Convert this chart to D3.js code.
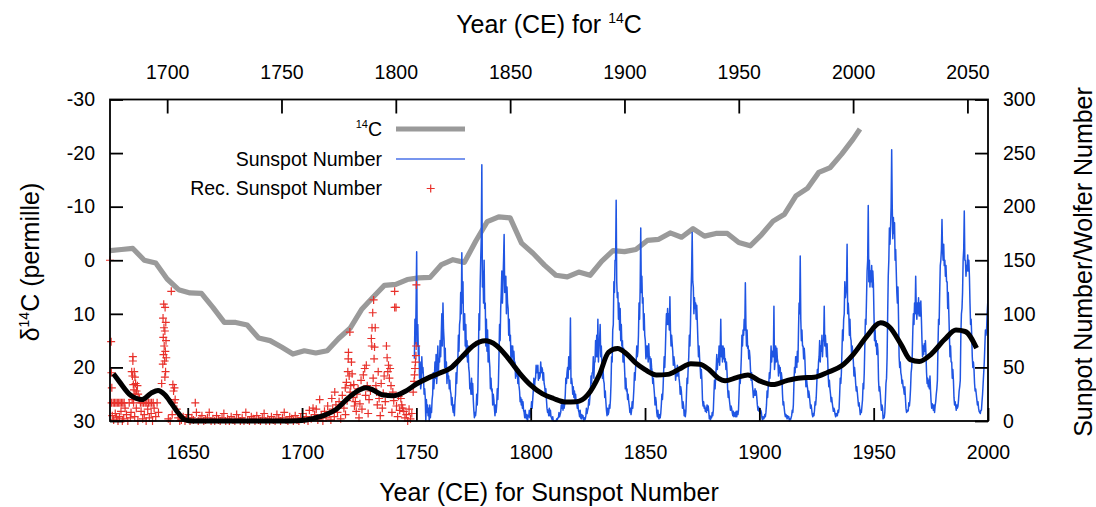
<!DOCTYPE html>
<html><head><meta charset="utf-8">
<script src="https://cdn.jsdelivr.net/npm/d3@7"></script>
<style>
body{margin:0;background:#fff;}
svg text{font-family:"Liberation Sans",Arial,Helvetica,sans-serif;fill:#000;}
</style></head><body>
<svg id="chart" width="1096" height="507"></svg>
<script>
// ---- 14C (top axis years, left axis permille, inverted) ----
const c14Years = [1675,1680,1685,1690,1695,1700,1705,1710,1715,1720,1725,1730,1735,1740,1745,1750,1755,1760,1765,1770,1775,1780,1785,1790,1795,1800,1805,1810,1815,1820,1825,1830,1835,1840,1845,1850,1855,1860,1865,1870,1875,1880,1885,1890,1895,1900,1905,1910,1915,1920,1925,1930,1935,1940,1945,1950,1955,1960,1965,1970,1975,1980,1985,1990,1995,2000,2003];
const c14Values = [-1.8,-2.0,-2.2,0.0,0.5,3.5,5.5,6.1,6.2,8.8,11.6,11.6,12.1,14.5,15.0,16.2,17.5,16.9,17.3,16.9,14.6,12.7,9.2,6.9,4.7,4.5,3.6,3.3,3.2,0.8,-0.1,0.4,-3.6,-7.2,-8.1,-7.9,-3.2,-1.3,0.9,2.8,3.1,2.2,2.8,0.2,-1.8,-1.6,-2.0,-3.7,-3.9,-5.1,-4.3,-5.9,-4.5,-5.0,-5.0,-3.3,-2.7,-4.8,-7.3,-8.6,-12.0,-13.4,-16.4,-17.3,-19.8,-22.6,-24.5];

// ---- Sunspot number, quarterly samples from 1749 (bottom axis years, right axis) ----
const sunspotStartYear = 1749;
const sunspotStep = 0.25;
const sunspotValues = [
58,95,72,110, 158,70,90,62, 70,40,55,30, 35,60,45,50, 40,25,30,22,
0,20,8,15, 5,12,0,15, 3,12,8,20, 25,45,30,40, 55,40,62,35,
48,70,45,58, 55,75,60,80, 100,70,110,85, 75,50,68,45, 55,35,48,40,
42,30,38,28, 25,15,22,12, 8,15,5,18, 25,45,35,50, 55,80,65,90,
95,120,100,157, 110,130,85,95, 100,70,90,60, 75,55,70,50, 45,30,35,25,
40,25,35,20, 10,3,8,5, 10,25,15,30, 60,100,85,125, 150,170,239,125,
140,110,150,105, 110,70,95,65, 85,55,75,58, 50,30,40,28, 30,15,25,20,
12,5,15,8, 15,30,20,35, 60,90,75,105, 120,140,110,130, 150,174,120,130,
135,100,125,110, 105,80,95,75, 80,55,70,60, 70,50,65,55, 55,40,50,42,
50,35,45,33, 28,18,22,15, 20,12,18,10, 8,3,10,4, 2,6,0,5,
4,10,3,9, 10,18,12,20, 28,40,30,38, 40,52,45,48, 52,38,45,40,
42,55,45,50, 48,38,45,35, 32,25,30,20, 12,8,10,5, 12,5,10,4,
3,1,4,0, 0,0,0,0, 0,2,1,3, 3,8,4,6, 8,15,12,18,
10,18,12,16, 25,40,35,45, 50,40,60,48, 55,96,35,40, 35,25,32,22,
28,20,25,18, 18,12,16,10, 8,4,10,3, 2,6,3,5, 0,3,1,2,
5,12,7,10, 12,20,15,22, 28,42,35,45, 45,60,40,55, 55,75,60,80,
60,95,55,70, 75,90,60,70, 55,40,50,38, 35,22,28,18, 10,5,12,6,
8,15,12,20, 35,60,55,85, 90,130,120,150, 150,206,130,115, 120,95,110,85,
105,75,90,70, 75,55,68,58, 45,30,40,28, 30,20,25,18, 14,8,12,6,
10,18,12,20, 30,45,38,50, 55,70,60,65, 80,110,95,125, 180,120,135,110,
115,85,100,80, 75,58,70,60, 70,55,72,58, 60,48,58,50, 45,35,40,32,
25,15,22,18, 8,4,10,3, 2,6,3,7, 15,25,20,30, 45,60,50,65,
85,100,90,105, 90,100,85,116, 85,70,80,72, 65,52,60,55, 50,38,45,42,
52,42,50,40, 35,25,32,28, 20,12,18,14, 5,10,4,9, 25,40,35,50,
60,80,70,90, 120,140,176,130, 125,100,115,105, 110,95,108,92, 75,60,70,58,
50,40,48,38, 20,14,18,12, 14,9,12,8, 15,10,14,9, 2,5,1,4,
3,8,5,10, 25,38,30,40, 50,62,48,58, 55,70,52,65, 95,60,70,55,
70,58,68,55, 58,48,55,45, 30,22,28,20, 15,10,14,12, 8,5,9,4,
5,8,4,9, 4,9,6,10, 25,40,35,45, 60,80,70,85, 80,95,85,129,
90,70,85,68, 70,58,66,60, 48,38,45,36, 30,22,28,24, 30,24,28,22,
15,10,13,9, 12,7,10,8, 3,1,4,2, 3,6,4,8, 15,28,22,32,
35,45,40,50, 70,55,65,62, 60,107,48,55, 70,55,68,58, 55,42,52,45,
50,38,45,40, 25,15,18,12, 7,4,6,5, 2,5,3,4, 0,2,1,3,
5,10,8,15, 35,50,45,60, 60,50,65,55, 85,110,100,154, 95,75,85,70,
70,58,68,60, 45,32,40,34, 30,22,28,24, 18,12,15,11, 6,4,7,5,
10,18,15,22, 35,48,42,55, 60,75,55,70, 65,80,60,75, 75,107,70,80,
70,60,72,58, 42,32,38,30, 25,18,22,17, 13,9,12,10, 6,4,7,5,
5,10,8,12, 25,40,35,45, 65,85,75,95, 100,130,115,120, 125,165,100,110,
100,80,95,78, 75,60,70,62, 55,42,50,44, 35,28,32,26, 20,14,17,12,
6,10,8,14, 20,35,30,45, 70,95,90,115, 140,150,201,130, 150,125,140,130,
145,125,140,128, 100,75,85,70, 75,62,72,65, 38,28,32,26, 18,10,15,12,
2,5,3,8, 20,35,40,60, 100,135,150,180, 165,180,200,253, 200,170,190,175,
185,150,160,140, 120,110,125,95, 60,50,55,45, 42,35,38,32, 30,25,32,22,
12,8,10,9, 10,17,14,20, 30,45,50,62, 85,100,90,110, 100,135,105,95,
110,100,115,98, 110,98,112,95, 75,60,70,62, 72,65,75,62, 45,35,40,32,
38,30,42,28, 18,12,16,14, 10,15,8,14, 18,25,30,38, 70,95,90,120,
145,150,160,188, 160,150,165,145, 150,135,145,130, 130,105,120,100, 80,60,70,55,
55,40,48,38, 22,15,18,14, 10,15,12,14, 20,28,32,38, 80,100,105,120,
150,160,196,150, 150,135,145,140, 155,140,150,135, 110,90,95,80, 60,50,55,48,
35,28,30,25, 20,15,18,12, 9,8,7,10, 10,18,25,35, 45,55,70,85,
80,85,100,110, 138
];

// ---- Smoothed (black) curve, bottom axis years, right axis ----
const smoothYears = [1617.5,1620,1625,1630,1634,1637,1640,1643,1646,1649,1652,1660,1670,1680,1690,1700,1705,1710,1715,1720,1725,1728,1731,1735,1740,1745,1750,1755,1760,1765,1770,1775,1780,1785,1790,1795,1800,1805,1810,1815,1820,1825,1830,1834,1838,1842,1846,1850,1855,1860,1865,1870,1874,1878,1882,1885,1890,1895,1900,1906,1912,1918,1924,1930,1936,1941,1947,1953,1957,1962,1966,1970,1975,1981,1986,1990,1995];
const smoothValues = [44,37,24,20,26,28.5,24.5,16,7,1,0,0,0,0,0,0.5,2.5,5.5,11,21,29,31,29,24.5,23.5,27.5,34.5,40,44.5,49.5,60,70.5,74.8,70.5,59,45,33.5,25.5,21,17.8,18,24.5,43,64,67.6,62.5,54,48,43,43.5,48.5,53.5,53,48,40,37.5,40.5,43,37.5,34,37.7,40.2,40.8,45.5,51.5,62,79,91.6,87.5,71.3,57.3,55.5,62,76,84.8,83.5,68];

// ---- Reconstructed sunspot numbers (red crosses) ----
const recYears = [1616.0,1616.5,1616.6,1616.8,1616.7,1617.4,1618.0,1618.6,1619.2,1619.8,1620.4,1621.0,1621.6,1622.2,1617.0,1617.6,1618.3,1618.9,1619.5,1620.1,1620.8,1621.4,1622.0,1622.6,1623.2,1623.8,1624.4,1624.9,
1625.5,1626.0,1626.0,1626.6,1625.8,1626.9,1626.2,1627.2,1628.0,1626.5,1627.6,1628.3,1627.0,1625.7,1628.9,1626.3,1627.5,1625.2,1626.8,1628.2,
1629.3,1630.0,1630.7,1631.4,1632.1,1632.8,1633.5,1634.2,1634.9,1629.6,1630.3,1631.0,1631.8,1632.5,1633.2,1634.0,1634.6,1635.3,1636.0,1636.6,1637.2,
1642.8,1639.5,1640.1,1639.2,1640.4,1639.6,1640.0,1639.3,1640.5,1639.7,1640.2,1639.4,1640.6,1639.9,1639.1,1640.3,1640.0,1638.6,
1643.5,1644.2,1643.8,1644.5,1644.0,1645.2,1643.2,1641.5,1642.3,1645.8,1646.5,
1647.2,1648.0,1648.8,1649.5,1650.3,1651.0,1651.8,1652.5,1653.3,1653.8,1654.6,1655.4,1656.2,1657.0,1657.8,1658.6,1659.4,1660.2,1661.0,1661.8,1662.6,1663.4,1664.2,1665.0,1665.8,1666.6,1667.4,1668.2,1669.0,1669.8,1670.6,1671.4,1672.2,1673.0,1673.8,1674.6,1675.4,1676.2,1677.0,1677.8,1678.6,1679.4,1680.2,1681.0,1681.8,1682.6,1683.4,1684.2,1685.0,1685.8,1686.6,1687.4,1688.2,1689.0,1689.8,1690.6,1691.4,1692.2,1693.0,1693.8,1694.6,1695.4,1696.2,1697.0,1697.8,1698.6,1699.4,1700.2,
1701.0,1701.8,1702.6,1703.2,1704.0,1704.8,1705.5,1706.2,1706.9,1707.7,1708.4,1709.1,1709.8,1710.5,1711.2,1711.9,1712.6,1713.0,1713.4,1714.1,1714.3,1714.8,1715.5,1716.2,1716.9,1717.6,1718.3,1718.9,1719.0,1719.4,1719.7,1720.0,1720.2,1720.3,1720.6,1720.9,1721.0,1721.3,1721.6,1721.9,1722.3,1722.6,1722.9,1723.3,1723.7,1724.0,1724.5,1724.9,1725.3,1725.8,1726.2,1726.8,1727.4,1727.8,1728.1,1728.5,1728.9,1729.3,1729.9,1730.3,1730.5,1730.6,1730.9,1731.1,1731.3,1731.5,1731.7,1732.0,1732.3,1732.6,1732.9,1733.3,1733.7,1734.2,1734.6,1735.1,1735.5,1735.9,1736.4,1736.9,1737.2,1737.5,1737.8,1738.2,1738.5,1738.9,1739.3,1739.7,1740.1,1740.5,1740.5,1741.1,1741.3,1741.8,1742.2,1742.7,1743.2,1743.6,1744.0,1744.5,1745.0,1745.6,1746.2,1746.8,1747.4,1748.0,1748.6,1749.0,1749.2,1749.4,1749.6,1749.8,1749.9,1750.0];
const recValues = [150,74,45,31,17,17,17,17,17,17,17,17,17,17,5,1,7,3,0,4,9,0,2,12,6,0,17,3,
46,60,56,46,42,41,34,35,33,29,28,25,25,20,21,17,12,8,4,0,
17,17,17,17,17,17,17,17,17,9,2,6,0,11,3,7,0,12,4,17,8,
121,109,106,96,92,87,84,78,75,70,65,62,59,56,53,46,41,35,
34,31,28,20,17,11,6,2,0,3,0,
1,4,0,2,6,0,3,1,17,8,0,2,5,0,1,3,8,0,2,0,5,1,0,3,7,0,2,0,4,1,0,6,2,0,3,0,8,1,0,4,2,0,5,1,0,3,7,0,2,0,4,1,0,6,2,0,3,8,1,0,4,2,0,5,1,0,3,7,
1,4,0,10,2,12,6,11,1,20,5,0,9,3,14,7,1,21,11,4,27,15,8,18,2,24,12,31,6,36,19,46,58,64,42,83,27,33,55,44,22,34,14,18,9,25,30,3,16,38,11,43,49,24,52,33,7,20,28,77,70,87,101,40,113,58,69,87,33,27,15,46,21,5,35,12,26,42,18,70,59,46,52,40,49,33,8,27,19,121,106,106,14,4,23,10,21,15,12,9,3,6,0,11,2,7,27,37,43,49,55,61,70,127];

// ---- Axis ticks ----
const bottomTicks = [1650,1700,1750,1800,1850,1900,1950,2000];
const topTicks = [1700,1750,1800,1850,1900,1950,2000,2050];
const leftTicks = [-30,-20,-10,0,10,20,30];
const rightTicks = [0,50,100,150,200,250,300];

const svg = d3.select("#chart");
const L = 110, R = 988, T = 99.5, B = 421;

const xBottom = d3.scaleLinear().domain([1616, 2000]).range([L, R]);
const xTop = d3.scaleLinear().domain([1675, 2059]).range([L, R]);
const yLeft = d3.scaleLinear().domain([-30, 30]).range([T, B]);
const yRight = d3.scaleLinear().domain([0, 300]).range([B, T]);

svg.append("defs").append("clipPath").attr("id","plotclip")
  .append("rect").attr("x",L).attr("y",T-2).attr("width",R-L).attr("height",B-T+4);

// 14C
const c14Data = c14Years.map((y,i)=>({x:y, v:c14Values[i]}));
svg.append("path").datum(c14Data)
  .attr("d", d3.line().x(d=>xTop(d.x)).y(d=>yLeft(d.v)))
  .attr("fill","none").attr("stroke","#9a9a9a").attr("stroke-width",5.2).attr("stroke-linejoin","round");

// Sunspot
const ssData = sunspotValues.map((v,i)=>({x: sunspotStartYear + (i+0.5)*sunspotStep, v}));
svg.append("path").datum(ssData)
  .attr("clip-path","url(#plotclip)")
  .attr("d", d3.line().x(d=>xBottom(d.x)).y(d=>yRight(d.v)))
  .attr("fill","none").attr("stroke","#1f55e3").attr("stroke-width",1.5).attr("stroke-linejoin","round");

// Reconstructed crosses
const recData = recYears.map((y,i)=>({x:y, v:recValues[i]}));
svg.append("g").selectAll("path").data(recData).join("path")
  .attr("transform", d=>`translate(${xBottom(d.x)},${yRight(d.v)})`)
  .attr("d","M-4,0H4M0,-4V4")
  .attr("stroke","#e8302a").attr("stroke-width",1.2).attr("fill","none");

// Smoothed
const smData = smoothYears.map((y,i)=>({x:y, v:smoothValues[i]}));
svg.append("path").datum(smData)
  .attr("d", d3.line().curve(d3.curveMonotoneX).x(d=>xBottom(d.x)).y(d=>yRight(d.v)))
  .attr("fill","none").attr("stroke","#000").attr("stroke-width",5).attr("stroke-linejoin","round");

// Axes
const fs = "19.5px";
function styleAxis(g){
  g.select(".domain").remove();
  g.selectAll(".tick line").attr("stroke","#000").attr("stroke-width",1.8);
  g.selectAll(".tick text").style("font-size",fs).attr("fill","#000");
}
svg.append("g").attr("transform",`translate(0,${B})`)
  .call(d3.axisBottom(xBottom).tickValues(bottomTicks).tickSizeInner(-13).tickSizeOuter(0).tickPadding(24).tickFormat(d=>String(d)))
  .call(styleAxis);
svg.append("g").attr("transform",`translate(0,${T})`)
  .call(d3.axisTop(xTop).tickValues(topTicks).tickSizeInner(-14).tickSizeOuter(0).tickPadding(21).tickFormat(d=>String(d)))
  .call(styleAxis);
svg.append("g").attr("transform",`translate(${L},0)`)
  .call(d3.axisLeft(yLeft).tickValues(leftTicks).tickSizeInner(-13).tickSizeOuter(0).tickPadding(15).tickFormat(d=>String(d)))
  .call(styleAxis);
svg.append("g").attr("transform",`translate(${R},0)`)
  .call(d3.axisRight(yRight).tickValues(rightTicks).tickSizeInner(-13).tickSizeOuter(0).tickPadding(15).tickFormat(d=>String(d)))
  .call(styleAxis);

// border
svg.append("rect").attr("x",L).attr("y",T).attr("width",R-L).attr("height",B-T)
  .attr("fill","none").attr("stroke","#000").attr("stroke-width",1.8);

// Titles
const tfs = 25;
const topTitle = svg.append("text").attr("x",(L+R)/2).attr("y",33).attr("text-anchor","middle").style("font-size",tfs+"px");
topTitle.append("tspan").text("Year (CE) for ");
topTitle.append("tspan").style("font-size","14px").attr("dy",-10).text("14");
topTitle.append("tspan").attr("dy",10).text("C");

svg.append("text").attr("x",(L+R)/2).attr("y",501).attr("text-anchor","middle").style("font-size",tfs+"px")
  .text("Year (CE) for Sunspot Number");

const leftTitle = svg.append("text").attr("transform","translate(39,262) rotate(-90)").attr("text-anchor","middle").style("font-size",tfs+"px");
leftTitle.append("tspan").text("δ");
leftTitle.append("tspan").style("font-size","14px").attr("dy",-10).text("14");
leftTitle.append("tspan").attr("dy",10).text("C (permille)");

svg.append("text").attr("transform","translate(1092,262) rotate(-90)").attr("text-anchor","middle").style("font-size",tfs+"px")
  .text("Sunpot Number/Wolfer Number");

// Legend
const lg = svg.append("g");
const l1 = lg.append("text").attr("x",382).attr("y",136).attr("text-anchor","end").style("font-size",fs);
l1.append("tspan").style("font-size","11px").attr("dy",-8).text("14");
l1.append("tspan").attr("dy",8).text("C");
lg.append("line").attr("x1",396).attr("x2",465).attr("y1",129).attr("y2",129).attr("stroke","#9a9a9a").attr("stroke-width",5.2);
lg.append("text").attr("x",382).attr("y",166).attr("text-anchor","end").style("font-size",fs).text("Sunspot Number");
lg.append("line").attr("x1",396).attr("x2",465).attr("y1",159).attr("y2",159).attr("stroke","#4a72e8").attr("stroke-width",1.3);
lg.append("text").attr("x",382).attr("y",195).attr("text-anchor","end").style("font-size",fs).text("Rec. Sunspot Number");
lg.append("path").attr("transform","translate(430.7,188.5)").attr("d","M-4,0H4M0,-4V4")
  .attr("stroke","#e8302a").attr("stroke-width",1.2);
</script>
</body></html>
